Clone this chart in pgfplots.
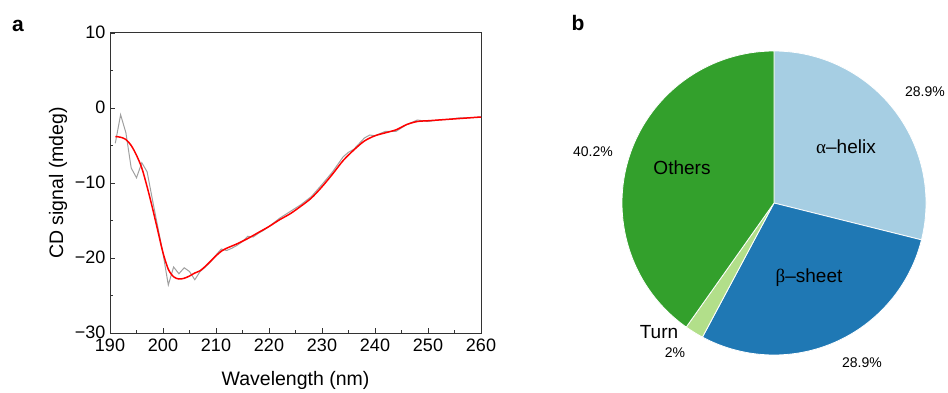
\documentclass[border=0pt]{standalone}
\usepackage{fontspec}
\setmainfont{Liberation Sans}
\newfontfamily\grk{Liberation Serif}
\usepackage{pgfplots}
\pgfplotsset{compat=1.18}
\definecolor{cA}{HTML}{A6CEE3}
\definecolor{cB}{HTML}{1F78B4}
\definecolor{cT}{HTML}{B2DF8A}
\definecolor{cO}{HTML}{33A02C}
\definecolor{rawgray}{HTML}{A0A0A0}
\definecolor{axc}{HTML}{333333}
\begin{document}
\begin{tikzpicture}[x=1bp,y=1bp]
\useasboundingbox (0,0) rectangle (948,392);
\begin{axis}[
  at={(110bp,59bp)}, anchor=south west,
  scale only axis, width=371bp, height=300bp,
  xmin=190, xmax=260, ymin=-30, ymax=10,
  xtick={190,200,...,260},
  ytick={-30,-20,-10,0,10},
  yticklabels={−30,−20,−10,0,10},
  minor tick num=1,
  tick align=inside,
  xtick pos=bottom, ytick pos=left,
  major tick length=5bp, minor tick length=3bp,
  axis line style={axc, line width=1bp},
  every tick/.style={axc, line width=0.8bp},
  /pgf/number format/assume math mode=true,
  /pgf/number format/set thousands separator={},
  tick label style={font=\fontsize{18bp}{19bp}\selectfont, text=black},
  xticklabel style={yshift=-2.5bp},
  yticklabel style={xshift=-1bp, yshift=1bp},
  xlabel={Wavelength (nm)}, ylabel={CD signal (mdeg)},
  every axis x label/.style={at={(axis description cs:0.5,-0.157)},anchor=center,font=\fontsize{19.5bp}{21bp}\selectfont},
  every axis y label/.style={at={(axis description cs:-0.140,0.5)},rotate=90,anchor=center,font=\fontsize{19.5bp}{21bp}\selectfont},
]
\addplot[rawgray, line width=1bp] coordinates {
(191,-4.7) (192,-0.9) (193,-3.3) (194,-8.0) (195,-9.3) (196,-7.3) (197,-8.5)
(198,-12.2) (199,-15.8) (200,-19.4) (201,-23.6) (202,-21.2) (203,-22.1) (204,-21.3)
(205,-21.8) (206,-22.9) (207,-21.8) (208,-21.2) (209,-20.5) (210,-19.6) (211,-18.8)
(212,-19.0) (213,-18.7) (214,-18.3) (215,-17.8) (216,-17.1) (217,-17.2) (218,-16.7)
(219,-16.3) (220,-15.8) (222,-14.7) (224,-13.8) (226,-12.9) (228,-11.8) (230,-10.2)
(232,-8.5) (234,-6.5) (235,-5.9) (236,-5.5) (238,-4.0) (239,-3.6) (240,-3.7)
(242,-3.1) (244,-3.1) (246,-2.2) (248,-1.6) (250,-1.8) (252,-1.6) (254,-1.5)
(256,-1.3) (258,-1.3) (260,-1.2)
};
\addplot[red, line width=1.5bp, smooth] coordinates {
(191,-3.8) (192,-3.9) (193,-4.2) (194,-5.0) (195,-6.3) (196,-8.0) (197,-10.5)
(198,-13.3) (199,-16.3) (200,-19.3) (201,-21.5) (202,-22.5) (203,-22.8) (204,-22.7)
(205,-22.4) (206,-22.0) (207,-21.7) (208,-21.1) (209,-20.4) (210,-19.7) (211,-19.1)
(212,-18.7) (214,-18.1) (216,-17.4) (218,-16.6) (220,-15.8) (222,-14.9) (224,-14.1)
(226,-13.1) (228,-12.0) (230,-10.5) (232,-8.8) (234,-7.0) (236,-5.6) (238,-4.4)
(240,-3.7) (242,-3.3) (244,-2.9) (246,-2.2) (248,-1.8) (250,-1.7) (252,-1.6)
(254,-1.5) (256,-1.4) (258,-1.3) (260,-1.2)
};
\end{axis}
% pie data (percent)
\def\pA{28.9}\def\pB{28.9}\def\pT{2}\def\pO{40.2}
\pgfmathsetmacro\aA{90-3.6*\pA}
\pgfmathsetmacro\aB{\aA-3.6*\pB}
\pgfmathsetmacro\aT{\aB-3.6*\pT}
\pgfmathsetmacro\aO{\aT-3.6*\pO}
\begin{axis}[
  at={(774bp,189bp)}, anchor=center,
  scale only axis, width=304bp, height=304bp,
  xmin=-1, xmax=1, ymin=-1, ymax=1, hide axis, clip=false,
]
\fill[cA, draw=white, line width=0.8bp] (axis cs:0,0) -- ++(90:152bp) arc[start angle=90, end angle=\aA, radius=152bp] -- cycle;
\fill[cB, draw=white, line width=0.8bp] (axis cs:0,0) -- ++(\aA:152bp) arc[start angle=\aA, end angle=\aB, radius=152bp] -- cycle;
\fill[cT, draw=white, line width=0.8bp] (axis cs:0,0) -- ++(\aB:152bp) arc[start angle=\aB, end angle=\aT, radius=152bp] -- cycle;
\fill[cO, draw=white, line width=0.8bp] (axis cs:0,0) -- ++(\aT:152bp) arc[start angle=\aT, end angle=\aO, radius=152bp] -- cycle;
\end{axis}
\begin{scope}[every node/.style={inner sep=0pt}]
\node[font=\fontsize{21bp}{22bp}\selectfont\bfseries] at (18,366) {a};
\node[font=\fontsize{21bp}{22bp}\selectfont\bfseries] at (578,369) {b};
\node[font=\fontsize{19bp}{20bp}\selectfont] at (846,245) {{\grk α}–helix};
\node[font=\fontsize{19bp}{20bp}\selectfont] at (809,114) {{\grk β}–sheet};
\node[font=\fontsize{19bp}{20bp}\selectfont] at (682,224) {Others};
\node[font=\fontsize{19bp}{20bp}\selectfont] at (659,60) {Turn};
\node[font=\fontsize{14bp}{15bp}\selectfont] at (925,300) {28.9\%};
\node[font=\fontsize{14bp}{15bp}\selectfont] at (862,29) {28.9\%};
\node[font=\fontsize{14bp}{15bp}\selectfont] at (675,39) {2\%};
\node[font=\fontsize{14bp}{15bp}\selectfont] at (593,240) {40.2\%};
\end{scope}
\end{tikzpicture}
\end{document}
